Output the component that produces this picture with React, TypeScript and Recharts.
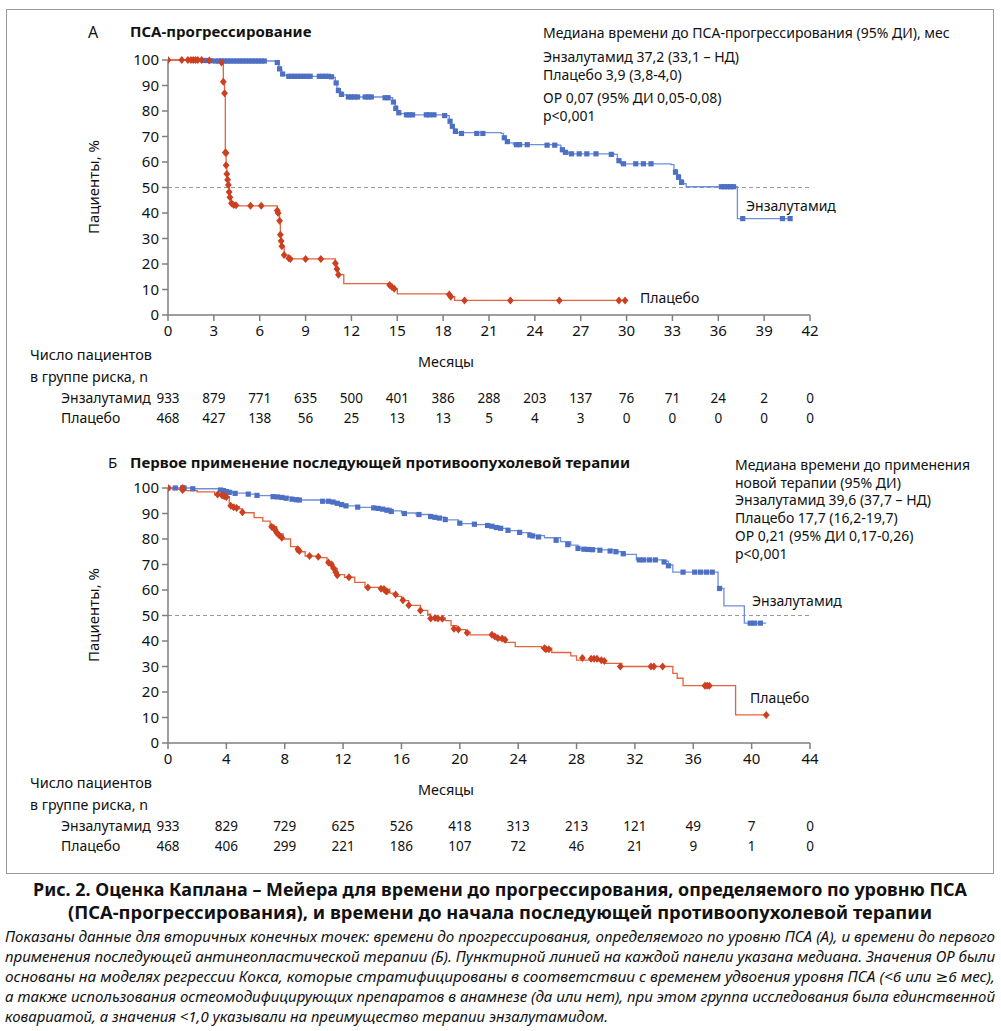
import React from "react";
import { LineChart, Line, XAxis, YAxis, ReferenceLine } from "recharts";

const FONT = "'Noto Sans', 'DejaVu Sans', sans-serif";

const BLUE_LINE = "#6f8fd8";
const BLUE_MARK = "#4d6fc4";
const RED_LINE = "#e2643c";
const RED_MARK = "#cc3f20";
const AXIS = "#7f7f7f";

// Panel A: PSA progression
const A_MONTHS = [0, 3, 6, 9, 12, 15, 18, 21, 24, 27, 30, 33, 36, 39, 42];
const A_RISK_ENZ = [933, 879, 771, 635, 500, 401, 386, 288, 203, 137, 76, 71, 24, 2, 0];
const A_RISK_PLA = [468, 427, 138, 56, 25, 13, 13, 5, 4, 3, 0, 0, 0, 0, 0];

const A_ENZ_T = [0, 2.9, 7.1, 7.25, 7.35, 7.45, 7.6, 7.8, 10.8, 10.95, 11.05, 11.2, 11.4, 11.7, 14.5, 14.7, 14.85, 15.0, 15.2, 15.5, 18.2, 18.4, 18.55, 18.7, 18.9, 21.8, 21.95, 22.1, 22.3, 22.6, 25.5, 25.7, 25.9, 26.2, 29.2, 29.4, 29.6, 32.9, 33.1, 33.3, 33.5, 33.7, 33.9, 37.25, 40.8];
const A_ENZ_V = [100, 99.6, 99.0, 97.5, 96, 95, 94, 93.6, 93.2, 91.5, 89, 87.5, 86.3, 85.5, 85.2, 84, 82, 80, 79, 78.5, 78.2, 76.5, 74.5, 73, 71.5, 71.2, 70, 68.5, 67.5, 66.8, 66.6, 65.3, 64, 63.2, 63, 61, 59.3, 59, 57, 55, 53, 51.5, 50.3, 37.8, 37.8];
const A_ENZ_CT = [2.4, 2.6, 2.8, 3.1, 3.3, 3.5, 3.7, 3.9, 4.1, 4.3, 4.5, 4.7, 4.9, 5.1, 5.3, 5.5, 5.7, 5.9, 6.1, 6.3, 7.15, 7.3, 7.5, 7.9, 8.1, 8.3, 8.5, 8.7, 8.9, 9.1, 9.3, 9.9, 10.1, 10.3, 10.5, 10.7, 11.0, 11.15, 11.35, 11.8, 12.0, 12.2, 12.4, 12.9, 13.1, 13.3, 14.2, 14.4, 14.75, 14.9, 15.1, 15.6, 15.8, 16.0, 16.9, 17.1, 17.4, 18.1, 18.45, 18.6, 18.8, 19.2, 20.2, 20.6, 22.0, 22.2, 22.8, 23.0, 23.5, 24.8, 25.3, 25.8, 26.0, 26.4, 26.9, 27.4, 28.0, 29.0, 29.5, 29.8, 30.6, 31.1, 31.6, 33.2, 33.4, 33.6, 36.2, 36.4, 36.6, 36.8, 37.0, 37.6, 40.2, 40.7];
const A_ENZ_CV = [99.8, 99.8, 99.7, 99.6, 99.6, 99.6, 99.6, 99.6, 99.6, 99.6, 99.6, 99.6, 99.6, 99.6, 99.6, 99.6, 99.6, 99.6, 99.6, 99.6, 99, 96.5, 94.5, 93.6, 93.6, 93.6, 93.6, 93.6, 93.6, 93.6, 93.6, 93.6, 93.6, 93.6, 93.6, 93.4, 91, 88, 86.5, 85.5, 85.5, 85.5, 85.5, 85.5, 85.5, 85.5, 85.2, 85.2, 83.5, 81, 79.3, 78.5, 78.5, 78.5, 78.5, 78.5, 78.5, 78.2, 76, 74, 72, 71.2, 71.2, 71.2, 69.5, 68, 66.8, 66.8, 66.8, 66.6, 66.6, 64.8, 63.8, 63.2, 63.2, 63.2, 63.2, 63, 60.5, 59.3, 59.3, 59.3, 59.3, 56, 54, 52, 50.3, 50.3, 50.3, 50.3, 50.3, 37.8, 37.8, 37.8];

const A_PLA_T = [0, 3.5, 3.62, 3.7, 3.75, 3.8, 3.85, 3.9, 3.95, 4.0, 4.05, 4.15, 4.3, 4.5, 7.15, 7.25, 7.3, 7.35, 7.4, 7.45, 7.6, 7.9, 8.1, 10.95, 11.05, 11.15, 11.5, 14.5, 14.65, 14.8, 15.0, 18.4, 18.5, 18.75, 29.9];
const A_PLA_V = [100, 99.2, 91.5, 87, 63.7, 58.7, 55.3, 53, 51, 48.2, 46.2, 43.8, 43.1, 42.8, 41, 40, 37, 31.5, 29, 27, 23.5, 22.5, 22, 20.3, 18, 15.8, 12.3, 11.8, 11, 10.3, 8.3, 7.8, 7.2, 5.7, 5.7];
const A_PLA_CT = [0, 0.9, 1.3, 1.5, 1.65, 1.8, 1.95, 2.2, 2.7, 3.5, 3.62, 3.7, 3.75, 3.8, 3.8, 3.85, 3.9, 3.95, 4.0, 4.05, 4.15, 4.3, 4.45, 5.4, 6.1, 7.15, 7.2, 7.3, 7.35, 7.4, 7.45, 7.6, 7.9, 8.0, 9.0, 10.0, 10.95, 11.05, 11.15, 14.5, 14.65, 14.8, 18.4, 18.5, 19.4, 22.4, 25.6, 29.5, 29.9];
const A_PLA_CV = [100, 100, 100, 100, 100, 100, 100, 100, 99.8, 99, 91.5, 87, 63.7, 63.5, 58.7, 55.3, 53, 51, 48.2, 46.2, 43.8, 43.1, 43, 42.8, 42.8, 41, 40, 37, 31.5, 29, 27, 23.5, 22.3, 22, 22, 22, 20.3, 18, 15.8, 11.8, 11, 10.3, 8, 7.2, 5.7, 5.7, 5.7, 5.7, 5.7];

// Panel B: first subsequent antineoplastic therapy
const B_MONTHS = [0, 4, 8, 12, 16, 20, 24, 28, 32, 36, 40, 44];
const B_RISK_ENZ = [933, 829, 729, 625, 526, 418, 313, 213, 121, 49, 7, 0];
const B_RISK_PLA = [468, 406, 299, 221, 186, 107, 72, 46, 21, 9, 1, 0];

const B_ENZ_T = [0, 1.7, 3.5, 3.9, 4.4, 5.5, 6.2, 7.7, 8.5, 9.0, 10.5, 11.5, 12.0, 13.0, 14.5, 15.3, 16.0, 17.0, 18.0, 19.0, 19.9, 21.0, 22.0, 22.7, 23.3, 24.0, 24.8, 25.8, 26.9, 27.6, 28.1, 29.7, 30.7, 31.3, 32.1, 33.9, 34.3, 34.6, 37.7, 38.1, 39.5, 41.0];
const B_ENZ_V = [100, 99.7, 99.2, 98.8, 98.0, 97.6, 97.0, 96.4, 95.6, 95.3, 94.8, 94.0, 93.0, 92.4, 92.0, 91.0, 90.2, 89.6, 88.6, 87.5, 86.0, 85.6, 85.0, 84.2, 83.3, 82.5, 81.3, 80.5, 79.0, 77.6, 76.2, 75.7, 75.0, 74.0, 71.8, 71.3, 69.8, 67.0, 60.6, 53.8, 47.0, 47.0];
const B_ENZ_CT = [0, 0.5, 1.0, 1.1, 1.7, 3.6, 3.8, 4.0, 4.2, 4.6, 5.5, 6.1, 7.2, 7.5, 7.8, 8.1, 8.5, 8.8, 9.0, 10.6, 11.0, 11.3, 11.6, 11.9, 12.2, 13.0, 14.1, 14.4, 14.7, 15.0, 15.3, 16.2, 17.2, 18.0, 18.3, 18.6, 19.0, 20.0, 21.0, 21.9, 22.2, 22.5, 22.8, 23.3, 24.1, 24.8, 25.0, 25.4, 26.6, 27.4, 28.1, 28.5, 28.8, 29.1, 29.6, 30.3, 30.7, 31.2, 32.3, 32.6, 33.0, 33.4, 34.0, 34.3, 35.3, 36.1, 36.5, 36.9, 37.3, 37.8, 39.9, 40.2, 40.6];
const B_ENZ_CV = [100, 100, 100, 100, 99.7, 99.2, 99, 98.6, 98.3, 97.9, 97.6, 97.1, 96.6, 96.5, 96.3, 96, 95.6, 95.4, 95.3, 94.8, 94.8, 94.5, 94.0, 93.5, 93.0, 92.5, 92.2, 92, 91.7, 91.3, 90.8, 90, 89.6, 88.8, 88.5, 88.2, 87.6, 86.2, 85.8, 85.3, 85, 84.5, 84.2, 83.4, 82.6, 81.5, 81.2, 80.8, 79.5, 77.8, 76.3, 76.0, 75.9, 75.8, 75.6, 75.3, 75, 74.2, 71.8, 71.8, 71.8, 71.8, 71, 69.5, 67, 67, 67, 67, 67, 60.6, 47, 47, 47];

const B_PLA_T = [0, 0.3, 1.0, 2.0, 3.2, 3.9, 4.2, 4.5, 4.9, 5.1, 5.9, 6.5, 7.0, 7.45, 7.9, 8.4, 8.8, 9.4, 10.3, 10.9, 11.3, 11.6, 12.1, 12.8, 13.5, 14.5, 15.2, 15.6, 16.0, 16.5, 17.3, 17.8, 18.0, 19.0, 19.4, 19.8, 20.4, 20.7, 22.3, 22.7, 23.1, 23.8, 25.6, 26.3, 27.6, 28.0, 29.5, 29.95, 31.1, 34.6, 34.9, 35.3, 38.9, 41.0];
const B_PLA_V = [100, 99.5, 99.0, 98.5, 97.3, 96.6, 93.5, 92.7, 91.8, 90.3, 88.4, 87, 84.8, 82, 80, 77, 75, 73.3, 72.7, 70.8, 68.5, 66, 65, 63, 61, 60.3, 58.8, 57.5, 55.8, 54, 52, 50.5, 49, 48, 46, 44.5, 43.5, 42.4, 41.5, 40.4, 39.5, 37.8, 37.2, 35.5, 34.2, 32.5, 32.1, 31.2, 30, 27.3, 25.4, 22.5, 11, 11];
const B_PLA_CT = [0, 1.0, 1.0, 3.4, 3.7, 3.8, 3.9, 4.0, 4.3, 4.5, 4.7, 5.1, 7.1, 7.25, 7.35, 7.45, 7.6, 7.8, 8.9, 9.0, 9.7, 10.3, 11.0, 11.2, 11.35, 11.5, 11.6, 12.4, 13.7, 14.6, 14.8, 14.9, 15.0, 15.6, 16.1, 16.5, 17.3, 18.0, 18.3, 18.5, 18.8, 19.6, 19.9, 20.5, 22.2, 22.4, 22.6, 22.9, 23.1, 25.8, 25.9, 26.1, 28.4, 29.0, 29.2, 29.4, 29.7, 29.9, 31.0, 33.1, 33.3, 33.9, 36.8, 36.95, 37.1, 41.0];
const B_PLA_CV = [100, 100, 99.2, 97.5, 97.2, 97, 96.8, 96.5, 93, 92.5, 92.2, 90.5, 84.8, 84.3, 83.5, 82.5, 81.6, 80.5, 76, 75.3, 73.3, 73, 70.8, 70, 68.5, 67, 65.8, 65, 61, 60.5, 60.4, 59.7, 59.4, 58.2, 56, 54, 52, 48.8, 49, 48.8, 48.7, 44.8, 44.5, 43.2, 42.5, 41.8, 41.2, 41, 40.5, 37.2, 36.8, 36.8, 33.3, 33, 33, 33, 32.5, 32.2, 30, 30, 30, 30, 22.5, 22.5, 22.5, 11];

const Y_TICKS = [0, 10, 20, 30, 40, 50, 60, 70, 80, 90, 100];

const pts = (t: number[], v: number[]) => t.map((x, i) => ({ t: x, v: v[i] }));

const square = (p: any) => {
  if (p.cx == null || p.cy == null) return <g key={`s${p.index}`} />;
  return <rect key={`s${p.index}`} x={p.cx - 2.6} y={p.cy - 2.6} width={5.2} height={5.2} fill={BLUE_MARK} />;
};

const diamond = (p: any) => {
  if (p.cx == null || p.cy == null) return <g key={`d${p.index}`} />;
  const { cx, cy } = p;
  return (
    <path
      key={`d${p.index}`}
      d={`M${cx},${cy - 4}L${cx + 3.4},${cy}L${cx},${cy + 4}L${cx - 3.4},${cy}Z`}
      fill={RED_MARK}
    />
  );
};

function Txt({ x, y, size = 14, bold = false, children }: any) {
  return (
    <div
      style={{
        position: "absolute",
        left: x,
        top: y,
        fontSize: size,
        fontWeight: bold ? 700 : 400,
        fontFamily: FONT,
        lineHeight: 1,
        whiteSpace: "nowrap",
        color: "#111",
      }}
    >
      {children}
    </div>
  );
}

// svg text fitted to a fixed width
function NT({ x, y, w, size = 14, bold = false, italic = false, children }: any) {
  return (
    <text
      x={x}
      y={y}
      textLength={w}
      lengthAdjust="spacingAndGlyphs"
      fontSize={size}
      fontWeight={bold ? 700 : 400}
      fontStyle={italic ? "italic" : "normal"}
      fontFamily={FONT}
      fill="#111"
    >
      {children}
    </text>
  );
}

type PanelProps = {
  top: number;
  months: number[];
  xMax: number;
  riskEnz: number[];
  riskPla: number[];
  enz: { t: number; v: number }[];
  pla: { t: number; v: number }[];
  enzCens: { t: number; v: number }[];
  plaCens: { t: number; v: number }[];
};

function Panel({ top, months, xMax, riskEnz, riskPla, enz, pla, enzCens, plaCens }: PanelProps) {
  const RiskTick = (props: any) => {
    const { x, y, payload } = props;
    const i = months.indexOf(payload.value);
    return (
      <g>
        <text x={x} y={y + 13} textAnchor="middle" fontSize={15} fill="#111" fontFamily={FONT}>
          {payload.value}
        </text>
        <text x={x} y={403} textAnchor="middle" fontSize={13.5} fill="#111" fontFamily={FONT}>
          {riskEnz[i]}
        </text>
        <text x={x} y={423} textAnchor="middle" fontSize={13.5} fill="#111" fontFamily={FONT}>
          {riskPla[i]}
        </text>
      </g>
    );
  };

  return (
    <div style={{ position: "absolute", left: 0, top }}>
      <LineChart width={1001} height={440} margin={{ top: 60, right: 191, bottom: 95, left: 108 }}>
        <XAxis
          type="number"
          dataKey="t"
          domain={[0, xMax]}
          ticks={months}
          allowDataOverflow
          height={30}
          tickSize={6}
          stroke={AXIS}
          strokeWidth={1.5}
          tick={<RiskTick />}
          interval={0}
        />
        <YAxis
          type="number"
          domain={[0, 100]}
          ticks={Y_TICKS}
          width={60}
          tickSize={6}
          tickMargin={3}
          stroke={AXIS}
          strokeWidth={1.5}
          tick={{ fontSize: 15, fill: "#111", fontFamily: FONT }}
          interval={0}
        />
        <ReferenceLine y={50} stroke="#9a9a9a" strokeDasharray="4 3" strokeWidth={1} />
        <Line data={enz} dataKey="v" type="stepAfter" stroke={BLUE_LINE} strokeWidth={1.3} dot={false} activeDot={false} isAnimationActive={false} />
        <Line data={enzCens} dataKey="v" stroke="none" dot={square} activeDot={false} isAnimationActive={false} />
        <Line data={pla} dataKey="v" type="stepAfter" stroke={RED_LINE} strokeWidth={1.3} dot={false} activeDot={false} isAnimationActive={false} />
        <Line data={plaCens} dataKey="v" stroke="none" dot={diamond} activeDot={false} isAnimationActive={false} />
      </LineChart>
      <svg width={1001} height={440} style={{ position: "absolute", left: 0, top: 0, pointerEvents: "none" }}>
        <NT x={30} y={360} w={122} size={14.5}>Число пациентов</NT>
        <NT x={30} y={382} w={118} size={14.5}>в группе риска, n</NT>
        <NT x={418} y={367} w={56} size={14.5}>Месяцы</NT>
        <text x={61} y={403} fontSize={14} fill="#111" fontFamily={FONT}>Энзалутамид</text>
        <text x={61} y={423} fontSize={14} fill="#111" fontFamily={FONT}>Плацебо</text>
      </svg>
      <div
        style={{
          position: "absolute",
          left: 93,
          top: 187,
          transform: "translate(-50%, -50%) rotate(-90deg)",
          fontFamily: FONT,
          fontSize: 15,
          whiteSpace: "nowrap",
          lineHeight: 1,
          color: "#111",
        }}
      >
        Пациенты, %
      </div>
    </div>
  );
}

const CAPTION_TITLE = [
  "Рис. 2. Оценка Каплана – Мейера для времени до прогрессирования, определяемого по уровню ПСА",
  "(ПСА-прогрессирования), и времени до начала последующей противоопухолевой терапии",
];
const CAPTION_LINES = [
  "Показаны данные для вторичных конечных точек: времени до прогрессирования, определяемого по уровню ПСА (А), и времени до первого",
  "применения последующей антинеопластической терапии (Б). Пунктирной линией на каждой панели указана медиана. Значения ОР были",
  "основаны на моделях регрессии Кокса, которые стратифицированы в соответствии с временем удвоения уровня ПСА (<6 или ≥6 мес),",
  "а также использования остеомодифицирующих препаратов в анамнезе (да или нет), при этом группа исследования была единственной",
  "ковариатой, а значения <1,0 указывали на преимущество терапии энзалутамидом.",
];
const CAPTION_WIDTHS = [990, 990, 990, 990, 603];

export default function App() {
  return (
    <div style={{ position: "absolute", left: 0, top: 0, width: 1001, height: 1031, background: "#fff", overflow: "hidden" }}>
      <div style={{ position: "absolute", left: 6, top: 9, width: 986, height: 863, border: "1px solid #9a9a9a" }} />

      <Panel
        top={0}
        months={A_MONTHS}
        xMax={42}
        riskEnz={A_RISK_ENZ}
        riskPla={A_RISK_PLA}
        enz={pts(A_ENZ_T, A_ENZ_V)}
        pla={pts(A_PLA_T, A_PLA_V)}
        enzCens={pts(A_ENZ_CT, A_ENZ_CV)}
        plaCens={pts(A_PLA_CT, A_PLA_CV)}
      />
      <Txt x={88} y={24} size={16}>А</Txt>
      <Txt x={130} y={24} size={15} bold>ПСА-прогрессирование</Txt>
      <Txt x={543} y={26}>Медиана времени до ПСА-прогрессирования (95% ДИ), мес</Txt>
      <Txt x={543} y={50}>Энзалутамид 37,2 (33,1 – НД)</Txt>
      <Txt x={543} y={68}>Плацебо 3,9 (3,8-4,0)</Txt>
      <Txt x={543} y={91}>ОР 0,07 (95% ДИ 0,05-0,08)</Txt>
      <Txt x={543} y={109}>p&lt;0,001</Txt>
      <Txt x={746} y={199}>Энзалутамид</Txt>
      <Txt x={640} y={291}>Плацебо</Txt>

      <Panel
        top={428}
        months={B_MONTHS}
        xMax={44}
        riskEnz={B_RISK_ENZ}
        riskPla={B_RISK_PLA}
        enz={pts(B_ENZ_T, B_ENZ_V)}
        pla={pts(B_PLA_T, B_PLA_V)}
        enzCens={pts(B_ENZ_CT, B_ENZ_CV)}
        plaCens={pts(B_PLA_CT, B_PLA_CV)}
      />
      <Txt x={108} y={455} size={15}>Б</Txt>
      <Txt x={130} y={455} size={15} bold>Первое применение последующей противоопухолевой терапии</Txt>
      <Txt x={735} y={458}>Медиана времени до применения</Txt>
      <Txt x={735} y={476}>новой терапии (95% ДИ)</Txt>
      <Txt x={735} y={493}>Энзалутамид 39,6 (37,7 – НД)</Txt>
      <Txt x={735} y={511}>Плацебо 17,7 (16,2-19,7)</Txt>
      <Txt x={735} y={529}>ОР 0,21 (95% ДИ 0,17-0,26)</Txt>
      <Txt x={735} y={547}>p&lt;0,001</Txt>
      <Txt x={752} y={594}>Энзалутамид</Txt>
      <Txt x={750} y={691}>Плацебо</Txt>

      <svg width={1001} height={1031} style={{ position: "absolute", left: 0, top: 0, pointerEvents: "none" }}>
        <NT x={33} y={896} w={934} size={18.5} bold>{CAPTION_TITLE[0]}</NT>
        <NT x={68} y={919} w={864} size={18.5} bold>{CAPTION_TITLE[1]}</NT>
        {CAPTION_LINES.map((l, i) => (
          <NT key={i} x={5} y={942 + i * 20} w={CAPTION_WIDTHS[i]} size={14.5} italic>
            {l}
          </NT>
        ))}
      </svg>
    </div>
  );
}
